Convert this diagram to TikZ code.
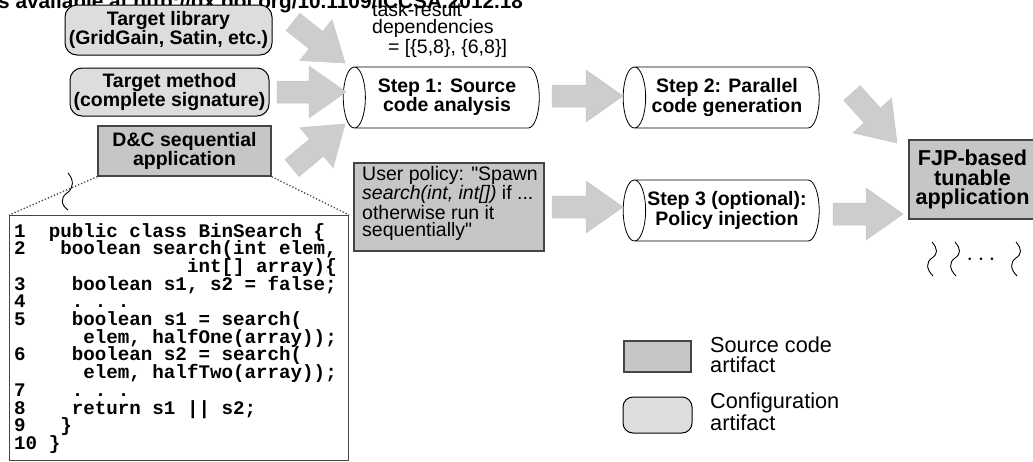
\documentclass[tikz,border=0pt]{standalone}
\usepackage{fontspec}
\setmainfont{Liberation Sans}[Ligatures=TeXOff]
\setmonofont{Liberation Mono}
\usetikzlibrary{shapes.geometric,calc}
\definecolor{cfggray}{HTML}{DDDDDD}
\definecolor{srcgray}{HTML}{C6C6C6}
\definecolor{arrgray}{HTML}{CDCDCD}
\definecolor{dkgray}{HTML}{454545}
\tikzset{
  cfg/.style={rectangle,rounded corners=12pt,draw=black,fill=cfggray,
              line width=1pt,inner sep=0pt,align=center,
              font=\fontsize{19.5}{17}\selectfont\bfseries},
  src/.style={rectangle,draw=dkgray,fill=srcgray,line width=1.2pt,
              inner sep=0pt,align=center,
              font=\fontsize{19.5}{17}\selectfont\bfseries},
  stepcyl/.style={cylinder,shape border rotate=180,draw=black,fill=white,
                  aspect=0.6,minimum height=196pt,minimum width=61pt,
                  inner sep=0pt,align=center,line width=0.8pt,
                  font=\fontsize{19.5}{17}\selectfont\bfseries},
  fat/.style={fill=arrgray,draw=black!22,line width=0.5pt},
  codeln/.style={anchor=base west,inner sep=0pt,
                 font=\fontsize{19.2}{17.7}\selectfont\ttfamily\bfseries},
  lbl/.style={inner sep=0pt,align=left,
              font=\fontsize{19.5}{17}\selectfont},
  wig/.style={line width=0.9pt},
}
% block arrow from #1 (tail) to #2 (tip)
\newcommand\fatarrow[2]{%
  \coordinate (fa-h) at ($(#2)!37pt!(#1)$);
  \filldraw[fat] ($(#1)!11pt!90:(#2)$) -- ($(fa-h)!11pt!90:(#2)$)
    -- ($(fa-h)!26pt!90:(#2)$) -- (#2) -- ($(fa-h)!26pt!-90:(#2)$)
    -- ($(fa-h)!11pt!-90:(#2)$) -- ($(#1)!11pt!-90:(#2)$) -- cycle;}

\begin{document}
\begin{tikzpicture}[x=1pt,y=-1pt]
  \useasboundingbox (0,0) rectangle (1033,461);

  \node[anchor=base west,inner sep=0pt,font=\fontsize{20.8}{20}\selectfont\bfseries]
    (hdr) at (-2,8) {s available at http://dx.doi.org/10.1109/ICCSA.2012.18};

  % inputs
  \node[cfg,minimum width=207pt,minimum height=50pt] (tlib) at (168.5,30)
    {Target library\\(GridGain, Satin, etc.)};
  \node[cfg,minimum width=199pt,minimum height=48pt] (tmeth) at (169.5,92)
    {Target method\\(complete signature)};
  \node[src,minimum width=173pt,minimum height=50pt] (dc) at (184.5,151)
    {D\&C sequential\\application};
  % base = last line
  \node[lbl,anchor=base west] (dep) at (372,53)
    {task-result\\dependencies\\\hspace*{16pt}= [\{5,8\}, \{6,8\}]};

  % steps
  \node[stepcyl] (step1) at (447,97.5) {Step 1: Source\\code analysis};
  \node[stepcyl] (step2) at (727,97.5) {Step 2: Parallel\\code generation};
  \node[stepcyl] (step3) at (727,210.5) {Step 3 (optional):\\Policy injection};
  \node[src,minimum width=190pt,minimum height=88pt] (pol) at (449,207) {};
  \node[lbl,anchor=base west] (poltxt) at (362,236)
    {User policy: "Spawn\\\textit{search(int, int[])} if ...\\otherwise run it\\sequentially"};
  \node[src,minimum width=127pt,minimum height=79pt,
        font=\fontsize{21.6}{19.5}\selectfont\bfseries]
    (fjp) at (972.5,179.5) {FJP-based\\tunable\\application};

  % arrows
  \coordinate (a1s) at (293,22);  \coordinate (a1e) at (345,63);
  \coordinate (a2s) at (277,92);  \coordinate (a2e) at (346,92);
  \coordinate (a3s) at (292,168); \coordinate (a3e) at (345,124);
  \coordinate (a4s) at (552,96);  \coordinate (a4e) at (623,96);
  \coordinate (a5s) at (552,207); \coordinate (a5e) at (623,207);
  \coordinate (a6s) at (852,93);  \coordinate (a6e) at (897,143);
  \coordinate (a7s) at (833,214); \coordinate (a7e) at (903,214);
  \foreach \s/\e in {a1s/a1e,a2s/a2e,a3s/a3e,a4s/a4e,a5s/a5e,a6s/a6e,a7s/a7e}
    \fatarrow{\s}{\e};

  % source code of the sequential application
  \node[rectangle,draw=dkgray,line width=1.1pt,fill=white,anchor=north west,
        minimum width=339pt,minimum height=245pt,inner sep=0pt] (codebox) at (9,215) {};
  \foreach \ln [count=\i] in {{1~~public class BinSearch \{},
      {2~~~boolean search(int elem,},
      {~~~~~~~~~~~~~~~int[] array)\{},
      {3~~~~boolean s1, s2 = false;},
      {4~~~~. . .},
      {5~~~~boolean s1 = search(},
      {~~~~~~elem, halfOne(array));},
      {6~~~~boolean s2 = search(},
      {~~~~~~elem, halfTwo(array));},
      {7~~~~. . .},
      {8~~~~return s1 || s2;},
      {9~~~\}},
      {10~\}}}
    \node[codeln] (code-\i) at (14,{237+(\i-1)*17.7}) {\ln};
  \draw[dkgray,dotted,line width=1.3pt] (dc.south west) -- (codebox.north west);
  \draw[dkgray,dotted,line width=1.3pt] (dc.south east) -- (codebox.north east);
  \draw[wig] (68,173) .. controls (74,180) and (74,188) .. (67,193)
    .. controls (60,198) and (61,205) .. (68,210);

  % tasks
  \foreach \sx in {932,955,1016}
    \draw[wig] (\sx,242) .. controls (\sx+6,249) and (\sx+6,254) .. (\sx,258)
      .. controls (\sx-6,262) and (\sx-6,269) .. (\sx+1,276);
  \node[inner sep=0pt,font=\fontsize{24}{24}\selectfont] (dots) at (981,260) {$\cdots$};

  % legend
  \node[src,minimum width=67pt,minimum height=31pt] (lsrc) at (657.5,356.5) {};
  \node[cfg,rounded corners=10pt,minimum width=69pt,minimum height=36pt] (lcfg) at (657.5,415) {};
  \node[lbl,anchor=base west,font=\fontsize{21.7}{20}\selectfont] (lsrctxt) at (710,372)
    {Source code\\artifact};
  \node[lbl,anchor=base west,font=\fontsize{21.7}{20}\selectfont] (lcfgtxt) at (710,430)
    {Configuration\\artifact};
\end{tikzpicture}
\end{document}
